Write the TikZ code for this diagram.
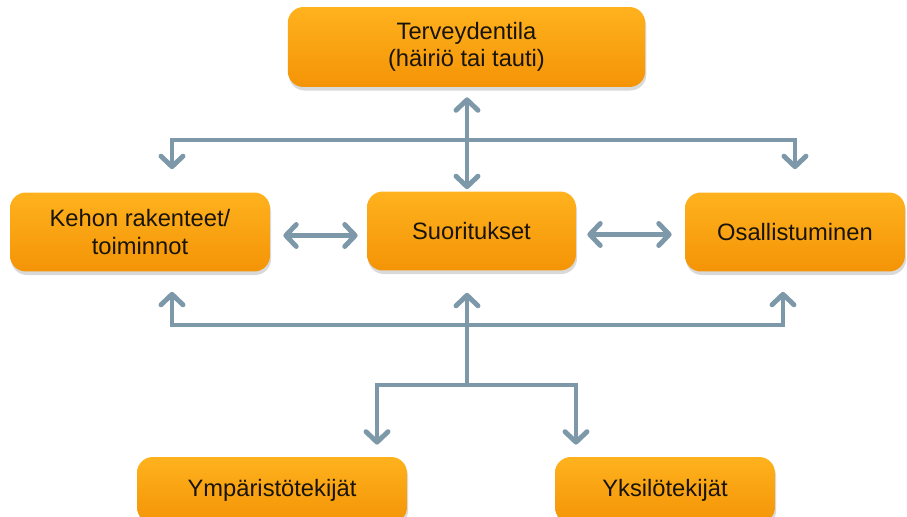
\documentclass[tikz,border=0pt]{standalone}
\usepackage{fontspec}
\setmainfont{Liberation Sans}
\usetikzlibrary{arrows.meta,shadows}

\definecolor{oranssiYla}{RGB}{255,178,30}
\definecolor{oranssiKesk}{RGB}{250,160,18}
\definecolor{oranssiAla}{RGB}{244,148,6}
\definecolor{nuoli}{RGB}{125,153,169}
\definecolor{teksti}{RGB}{25,20,10}

\begin{document}
\begin{tikzpicture}[
    x=0.02cm, y=-0.02cm,
    every node/.style={font=\fontsize{13.5}{15.5}\selectfont, text=teksti},
    box/.style={
        rounded corners=9pt,
        top color=oranssiYla,
        middle color=oranssiKesk,
        bottom color=oranssiAla,
        align=center,
        drop shadow={opacity=0.3, shadow xshift=0.6pt, shadow yshift=-2pt}
    },
    arr/.style={
        draw=nuoli,
        line width=2.8pt,
        -{Straight Barb[round, length=0.21cm, width=0.44cm]}
    },
    dbl/.style={
        arr,
        {Straight Barb[round, length=0.21cm, width=0.44cm]}-{Straight Barb[round, length=0.21cm, width=0.44cm]}
    }
]

    \useasboundingbox (0,0) rectangle (907,517);

    % Health condition
    \node[box, minimum width=7.15cm, minimum height=1.6cm] (tila) at (466.5,47)
        {Terveydentila\\(häiriö tai tauti)};

    % Middle row
    \node[box, minimum width=5.2cm, minimum height=1.58cm] (kehon) at (140,232)
        {Kehon rakenteet/\\toiminnot};
    \node[box, minimum width=4.18cm, minimum height=1.58cm] (suor) at (471.5,231) {Suoritukset};
    \node[box, minimum width=4.4cm, minimum height=1.58cm] (osal) at (795,232) {Osallistuminen};

    % Contextual factors
    \node[box, minimum width=5.4cm, minimum height=1.32cm] (ymp) at (272,490) {Ympäristötekijät};
    \node[box, minimum width=4.4cm, minimum height=1.32cm] (yks) at (665,490) {Yksilötekijät};

    % Bus coordinates
    \coordinate (ylaV) at (172,140);
    \coordinate (ylaO) at (795,140);
    \coordinate (alaV) at (172,325);
    \coordinate (alaO) at (783,325);
    \coordinate (haara) at (467,385);
    \coordinate (haaraV) at (377,385);
    \coordinate (haaraO) at (576,385);

    % Upper connections
    \draw[dbl, shorten <=0.2cm, shorten >=0.04cm] (tila.south -| haara) -- (suor.north -| haara);
    \draw[dbl, shorten <=0.46cm, shorten >=0.46cm] (kehon.north -| ylaV) -- (ylaV) -- (ylaO) -- (osal.north);

    % Middle row
    \draw[dbl, shorten <=0.26cm, shorten >=0.18cm] ([yshift=-0.07cm]kehon.east) -- ([yshift=-0.07cm]kehon.east -| suor.west);
    \draw[dbl, shorten <=0.22cm, shorten >=0.26cm] ([yshift=-0.07cm]suor.east) -- ([yshift=-0.07cm]suor.east -| osal.west);

    % Lower connections
    \draw[dbl, shorten <=0.4cm, shorten >=0.4cm] (kehon.south -| alaV) -- (alaV) -- (alaO) -- (osal.south -| alaO);
    \draw[arr, shorten >=0.44cm] (haara) -- (suor.south -| haara);
    \draw[dbl, shorten <=0.24cm, shorten >=0.24cm] (ymp.north -| haaraV) -- (haaraV) -- (haaraO) -- (yks.north -| haaraO);

\end{tikzpicture}
\end{document}
